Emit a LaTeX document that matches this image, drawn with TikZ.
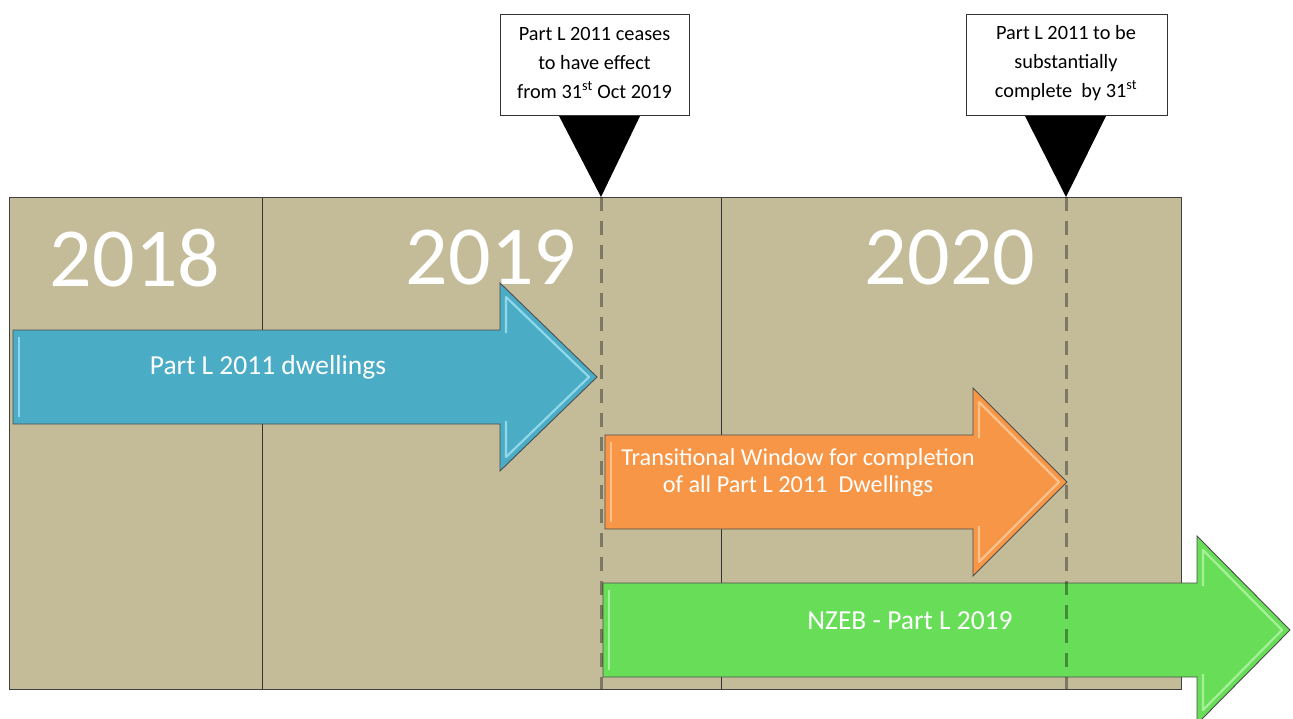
\documentclass[tikz,border=0pt]{standalone}
\usepackage{fontspec}
\setmainfont{Carlito}
\usetikzlibrary{calc}

\definecolor{panelfill}{HTML}{C4BC99}
\definecolor{blueA}{HTML}{4BACC6}
\definecolor{blueH}{HTML}{A8E6F5}
\definecolor{orangeA}{HTML}{F79646}
\definecolor{orangeH}{HTML}{FFD2A6}
\definecolor{greenA}{HTML}{68DE58}
\definecolor{greenH}{HTML}{BDF5B0}

\tikzset{
  frame/.style={draw=black!75, line width=0.9pt},
  gridline/.style={draw=black!80, line width=0.8pt},
  yearlabel/.style={text=white, font=\fontsize{84}{84}\selectfont, inner sep=0pt},
  arrowlabel/.style={text=white, align=center, inner sep=0pt},
  callbox/.style={draw=black!80, fill=white, line width=0.8pt},
  calltext/.style={align=center, inner sep=0pt, font=\fontsize{20.3}{29}\selectfont},
  pointer/.style={fill=black},
  milestone/.style={draw=black, draw opacity=0.36, line width=3pt, dash pattern=on 14pt off 10pt},
}

% timeline arrow: #1 fill, #2 highlight, #3 left x, #4 centre y, #5 head base x, #6 tip x
\newcommand\tlarrow[6]{%
  \fill[#1, draw=black!70, line width=0.9pt]
    (#3,#4-47) -- (#5,#4-47) -- (#5,#4-94) -- (#6,#4) -- (#5,#4+94)
    -- (#5,#4+47) -- (#3,#4+47) -- cycle;
  \draw[#2, line width=2.2pt, opacity=0.75, line join=round]
    (#3+6,#4+40) -- (#3+6,#4-40);
  \draw[#2, line width=2.2pt, opacity=0.75, line join=round]
    (#5+6,#4-44) -- (#5+6,#4-80) -- (#6-8,#4) -- (#5+6,#4+80) -- (#5+6,#4+44);
}

\begin{document}
\begin{tikzpicture}[x=1pt, y=-1pt]
\useasboundingbox (0,0) rectangle (1293,718);
\clip (0,0) rectangle (1293,718);

% year panel
\fill[panelfill] (9,197) rectangle (1181,689);
\draw[gridline] (262,197) -- (262,689);
\draw[gridline] (721,197) -- (721,689);
\draw[frame] (9,197) rectangle (1181,689);

\node[yearlabel] (y2018) at (135,258) {2018};
\node[yearlabel] (y2019) at (491,258) {2019};
\node[yearlabel] (y2020) at (950,258) {2020};

% timeline arrows
\tlarrow{blueA}{blueH}{13}{377}{500}{597}
\node[arrowlabel, font=\fontsize{27.5}{30}\selectfont] (partl) at (268,367) {Part L 2011 dwellings};

\tlarrow{orangeA}{orangeH}{605}{482}{973}{1067}
\node[arrowlabel, font=\fontsize{24.3}{27}\selectfont] (window) at (798,473)
  {Transitional Window for completion\\of all Part L 2011\ \ Dwellings};

\tlarrow{greenA}{greenH}{603}{630}{1197}{1290}
\node[arrowlabel, font=\fontsize{27.5}{30}\selectfont] (nzeb) at (910,621) {NZEB - Part L 2019};

% milestone markers
\coordinate (m1top) at (601,197);
\coordinate (m1bot) at (601,689);
\coordinate (m2top) at (1066,197);
\coordinate (m2bot) at (1066,689);
\draw[milestone] (m1top) -- (m1bot);
\draw[milestone] (m2top) -- (m2bot);

% callouts
\fill[pointer] (558,114) -- (641,114) -- (m1top) -- cycle;
\draw[callbox] (500,14) rectangle (689,115);
\node[calltext] (call1) at (594.5,63)
  {Part L 2011 ceases\\to have effect\\from 31\textsuperscript{st} Oct 2019};

\fill[pointer] (1024,114) -- (1107,114) -- (m2top) -- cycle;
\draw[callbox] (966,14) rectangle (1167,115);
\node[calltext] (call2) at (1066,63)
  {Part L 2011 to be\\substantially\\complete\ \ by 31\textsuperscript{st}};
\end{tikzpicture}
\end{document}
